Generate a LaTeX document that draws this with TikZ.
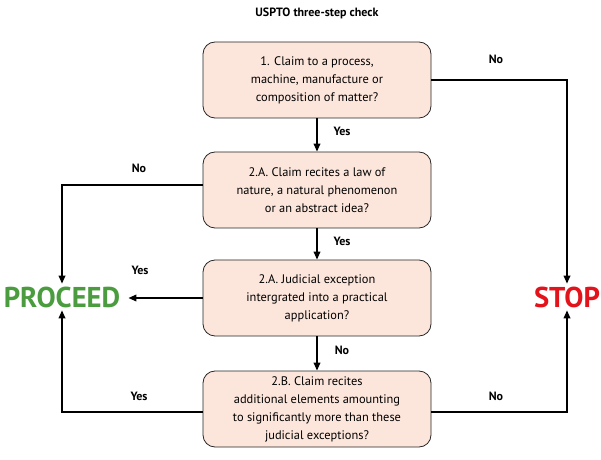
\documentclass[tikz,border=0pt]{standalone}
\usepackage{fontspec}
\setmainfont{PT Sans}
\usetikzlibrary{arrows.meta}
\definecolor{boxfill}{HTML}{FCE6DC}
\definecolor{pgreen}{HTML}{4A9C3F}
\definecolor{sred}{HTML}{E3131B}
\begin{document}
\begin{tikzpicture}[x=0.75pt,y=-0.75pt,
  box/.style={draw=black!85,fill=boxfill,rounded corners=9pt,minimum width=171pt,minimum height=57pt,align=center,font=\fontsize{9.3}{13.5}\selectfont,line width=0.6pt},
  lbl/.style={font=\bfseries\fontsize{9}{11}\selectfont},
  arr/.style={-{Triangle[length=6pt,width=5pt]},line width=1.1pt}]
\useasboundingbox (0,0) rectangle (601,460);
\node[lbl] (title) at (317,13) {USPTO three-step check};
\node[box] (b1) at (317,80) {1. Claim to a process,\\machine, manufacture or\\composition of matter?};
\node[box] (b2) at (317,190) {2.A. Claim recites a law of\\nature, a natural phenomenon\\or an abstract idea?};
\node[box] (b3) at (317,298) {2.A. Judicial exception\\intergrated into a practical\\application?};
\node[box] (b4) at (317,409) {2.B. Claim recites\\additional elements amounting\\to significantly more than these\\judicial exceptions?};
\node[font=\bfseries\fontsize{21.5}{24}\selectfont,text=pgreen,inner sep=2pt] (pr) at (62,297) {PROCEED};
\node[font=\bfseries\fontsize{21.5}{24}\selectfont,text=sred,inner sep=2pt] (st) at (567,297) {STOP};
\coordinate (c1) at (567,80);
\coordinate (c2) at (62,185);
\coordinate (c4l) at (62,412);
\coordinate (c4r) at (567,412);
\draw[arr] (b1.east) -- (c1) -- (st.north);
\draw[arr] (b1) -- (b2);
\draw[arr] (b2) -- (b3);
\draw[arr] (b3) -- (b4);
\draw[arr] (b2.west |- c2) -- (c2) -- (pr.north);
\draw[arr] (b3.west) -- ([xshift=4pt]b3.west -| pr.east);
\draw[arr] (b4.west |- c4l) -- (c4l) -- (pr.south);
\draw[arr] (b4.east |- c4r) -- (c4r) -- (st.south);
\node[lbl] (l1) at (496,59) {No};
\node[lbl] (l2) at (342,131) {Yes};
\node[lbl] (l3) at (139,168) {No};
\node[lbl] (l4) at (342,241) {Yes};
\node[lbl] (l5) at (140,270) {Yes};
\node[lbl] (l6) at (342,350) {No};
\node[lbl] (l7) at (139,396) {Yes};
\node[lbl] (l8) at (496,396) {No};
\end{tikzpicture}
\end{document}
